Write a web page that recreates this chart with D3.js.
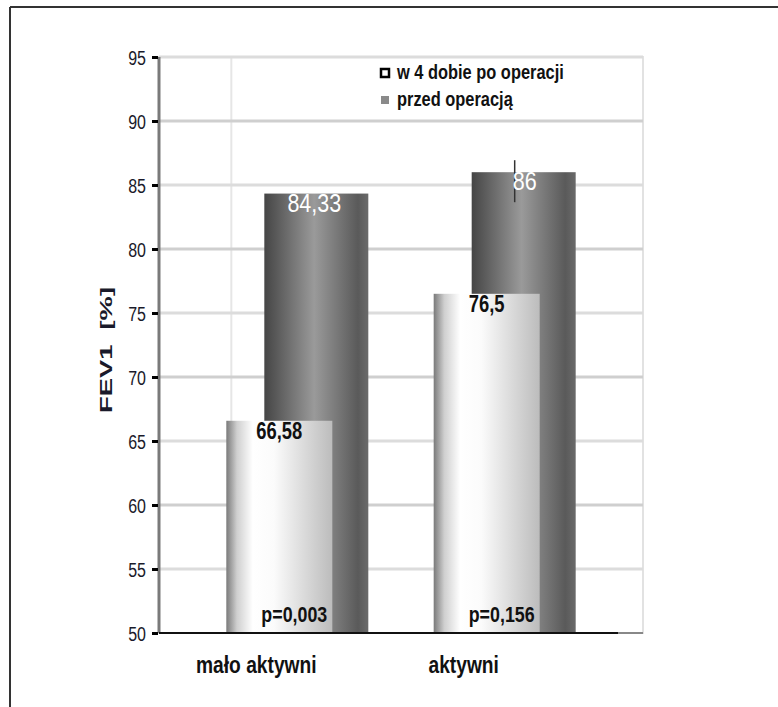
<!DOCTYPE html>
<html>
<head>
<meta charset="utf-8">
<script src="https://cdn.jsdelivr.net/npm/d3@7"></script>
<style>
  html, body { margin: 0; padding: 0; background: #fff; }
  svg { display: block; }
  text { font-family: "Liberation Sans", Arial, sans-serif; }
</style>
</head>
<body>
<script>
// ---- data ----
const categories = ["mało aktywni", "aktywni"];
const seriesNames = ["w 4 dobie po operacji", "przed operacją"];
const afterOp = [66.58, 76.5];      // w 4 dobie po operacji (light bars)
const beforeOp = [84.33, 86];       // przed operacją (dark bars)
const afterLabels = ["66,58", "76,5"];
const beforeLabels = ["84,33", "86"];
const pValues = ["p=0,003", "p=0,156"];
const yTicks = [50, 55, 60, 65, 70, 75, 80, 85, 90, 95];
const yTitle = "FEV1  [%]";

(function () {
// ---- layout ----
const W = 778, H = 707;
const pLeft = 159, pRight = 643, pTop = 57, pBottom = 633;

const svg = d3.select("body").append("svg").attr("width", W).attr("height", H);

const y = d3.scaleLinear().domain([50, 95]).range([pBottom, pTop]);
const x = d3.scalePoint().domain(categories).range([pLeft, pRight]).padding(0.667);

// condense text horizontally (narrow-font look)
function condense(sel, f) {
  sel.each(function () {
    const w = this.getComputedTextLength();
    d3.select(this).attr("textLength", w * f).attr("lengthAdjust", "spacingAndGlyphs");
  });
}

// gradients
const defs = svg.append("defs");
const gDark = defs.append("linearGradient").attr("id", "gDark").attr("x1", "0").attr("x2", "1").attr("y1", "0").attr("y2", "0");
[[0, "#454545"], [0.48, "#9a9a9a"], [0.9, "#5a5a5a"], [1, "#6a6a6a"]].forEach(([o, c]) =>
  gDark.append("stop").attr("offset", o).attr("stop-color", c));
const gLight = defs.append("linearGradient").attr("id", "gLight").attr("x1", "0").attr("x2", "1").attr("y1", "0").attr("y2", "0");
[[0, "#7a7a7a"], [0.1, "#cfcfcf"], [0.25, "#ffffff"], [0.45, "#fbfbfb"], [1, "#bcbcbc"]].forEach(([o, c]) =>
  gLight.append("stop").attr("offset", o).attr("stop-color", c));

// outer frame
svg.append("line").attr("x1", 10).attr("x2", W).attr("y1", 7).attr("y2", 7).attr("stroke", "#333").attr("stroke-width", 2);
svg.append("line").attr("x1", 10).attr("x2", 10).attr("y1", 7).attr("y2", H).attr("stroke", "#333").attr("stroke-width", 2);

// plot border (light)
svg.append("rect").attr("x", pLeft).attr("y", pTop).attr("width", pRight - pLeft).attr("height", pBottom - pTop)
  .attr("fill", "#fff").attr("stroke", "#e2e2e2").attr("stroke-width", 2);

// vertical gridline
svg.selectAll("line.vgrid").data(categories.slice(0, 1)).join("line").attr("class", "vgrid")
  .attr("x1", d => x(d) - 66).attr("x2", d => x(d) - 66)
  .attr("y1", pTop).attr("y2", pBottom).attr("stroke", "#e6e6e6").attr("stroke-width", 2);

// horizontal gridlines
svg.selectAll("line.hgrid").data(yTicks.slice(1)).join("line").attr("class", "hgrid")
  .attr("x1", pLeft).attr("x2", pRight).attr("y1", d => y(d)).attr("y2", d => y(d))
  .attr("stroke", (d, i) => i % 2 ? "#cfcfcf" : "#dcdcdc").attr("stroke-width", 3);

// dark bars (przed operacją)
svg.selectAll("rect.dark").data(categories).join("rect").attr("class", "dark")
  .attr("x", d => x(d) - 33).attr("width", 104)
  .attr("y", (d, i) => y(beforeOp[i])).attr("height", (d, i) => y(50) - y(beforeOp[i]))
  .attr("fill", "url(#gDark)");

// light bars (w 4 dobie po operacji)
svg.selectAll("rect.light").data(categories).join("rect").attr("class", "light")
  .attr("x", d => x(d) - 71).attr("width", 106)
  .attr("y", (d, i) => y(afterOp[i])).attr("height", (d, i) => y(50) - y(afterOp[i]))
  .attr("fill", "url(#gLight)");

// small vertical mark on second dark bar
svg.append("line").attr("x1", x(categories[1]) + 10).attr("x2", x(categories[1]) + 10)
  .attr("y1", y(beforeOp[1]) - 12).attr("y2", y(beforeOp[1]) + 30)
  .attr("stroke", "#333").attr("stroke-width", 1.5);

// y axis line
svg.append("line").attr("x1", pLeft).attr("x2", pLeft).attr("y1", pTop).attr("y2", pBottom)
  .attr("stroke", "#7a7a7a").attr("stroke-width", 3);
// x baseline
svg.append("line").attr("x1", pLeft).attr("x2", pRight - 25).attr("y1", pBottom).attr("y2", pBottom)
  .attr("stroke", "#111").attr("stroke-width", 2);
svg.append("line").attr("x1", pRight - 25).attr("x2", pRight).attr("y1", pBottom).attr("y2", pBottom)
  .attr("stroke", "#888").attr("stroke-width", 2);

// y axis ticks + labels via d3 axis
const yAxis = d3.axisLeft(y).tickValues(yTicks).tickSize(6).tickPadding(6).tickFormat(d3.format("d"));
const gy = svg.append("g").attr("transform", `translate(${pLeft - 1},0)`).call(yAxis);
gy.select(".domain").remove();
gy.selectAll(".tick line").attr("stroke", "#000").attr("stroke-width", 3);
gy.selectAll(".tick text").attr("font-family", "Liberation Sans, Arial, sans-serif")
  .attr("font-size", 20).attr("fill", "#1a1a2a").attr("dy", "0.35em");
condense(gy.selectAll(".tick text"), 0.8);

// y title
svg.append("text")
  .attr("transform", `translate(112,350) rotate(-90)`)
  .attr("text-anchor", "middle")
  .attr("font-weight", "bold").attr("font-size", 16).attr("fill", "#1a1a2a")
  .attr("textLength", 126).attr("lengthAdjust", "spacingAndGlyphs")
  .style("white-space", "pre")
  .text(yTitle);

// category labels
const cat = svg.selectAll("text.cat").data(categories).join("text").attr("class", "cat")
  .attr("x", d => x(d) - 41).attr("y", 673)
  .attr("text-anchor", "middle").attr("font-size", 24).attr("font-weight", "bold").attr("fill", "#111")
  .text(d => d);
condense(cat, 0.8);

// value labels - dark bars (white)
const vd = svg.selectAll("text.vdark").data(categories).join("text").attr("class", "vdark")
  .attr("x", (d, i) => x(d) + (i === 0 ? 17 : 20)).attr("y", (d, i) => y(beforeOp[i]) + 18)
  .attr("text-anchor", "middle").attr("font-size", 25).attr("fill", "#fff")
  .text((d, i) => beforeLabels[i]);
condense(vd, 0.86);

// value labels - light bars (black)
const vl = svg.selectAll("text.vlight").data(categories).join("text").attr("class", "vlight")
  .attr("x", (d, i) => x(d) - 18).attr("y", (d, i) => y(afterOp[i]) + 18)
  .attr("text-anchor", "middle").attr("font-size", 23).attr("font-weight", "bold").attr("fill", "#111")
  .text((d, i) => afterLabels[i]);
condense(vl, 0.8);

// p values
const pv = svg.selectAll("text.pv").data(categories).join("text").attr("class", "pv")
  .attr("x", d => x(d) - 3).attr("y", 622)
  .attr("text-anchor", "middle").attr("font-size", 22).attr("font-weight", "bold").attr("fill", "#111")
  .text((d, i) => pValues[i]);
condense(pv, 0.81);

// legend
const lg = svg.append("g").attr("transform", "translate(380,0)");
const items = lg.selectAll("g").data(seriesNames).join("g")
  .attr("transform", (d, i) => `translate(0,${73 + i * 27})`);
items.append("rect").attr("x", 1).attr("y", -4).attr("width", 8).attr("height", 8)
  .attr("fill", (d, i) => i === 0 ? "#fff" : "#8a8a8a")
  .attr("stroke", (d, i) => i === 0 ? "#000" : "none").attr("stroke-width", 2.5);
const lt = items.append("text").attr("x", 17).attr("y", 6)
  .attr("font-size", 20).attr("font-weight", "bold").attr("fill", "#111")
  .style("white-space", "pre")
  .text(d => d);
condense(lt, 0.82);
})();
</script>
</body>
</html>
